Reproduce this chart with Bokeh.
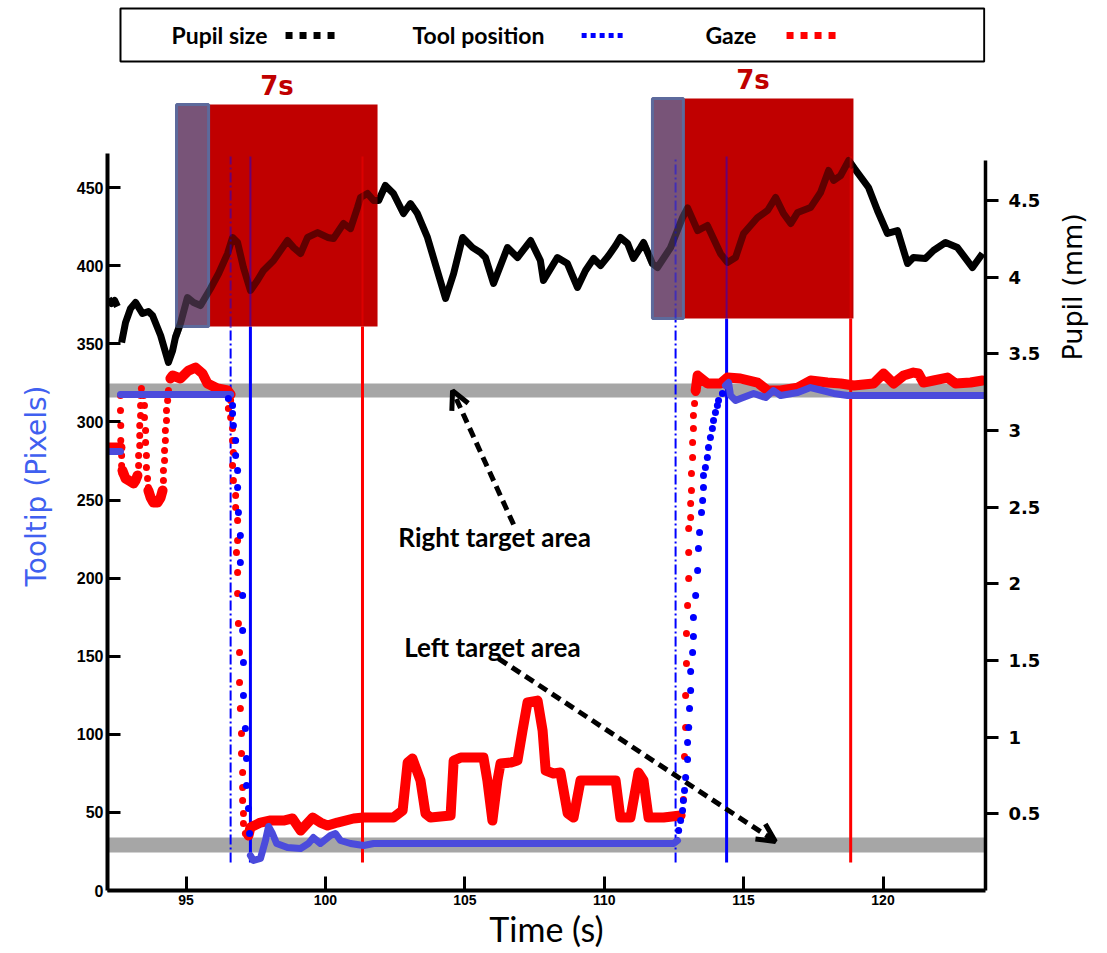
import numpy as np
from bokeh.plotting import figure
from bokeh.models import (Range1d, LinearAxis, FixedTicker, NumeralTickFormatter, CustomJSTickFormatter,
                          Arrow, OpenHead, ColumnDataSource, BoxAnnotation)
from bokeh.core.properties import value
from bokeh.embed import file_html
from bokeh.resources import INLINE

nan = float("nan")

# ---------------- data ----------------
time_ticks = [95, 100, 105, 110, 115, 120]
pixel_ticks = [0, 50, 100, 150, 200, 250, 300, 350, 400, 450]
pupil_ticks = [0.5, 1, 1.5, 2, 2.5, 3, 3.5, 4, 4.5]

# pupil size (mm, right axis)
pupil_t = [92.22, 92.33, 92.44, 92.54, nan, 92.69, 92.83, 93.01, 93.19, 93.44, 93.65, 93.80, 94.09, 94.37,
           94.52, 94.62, 94.80, 95.05, 95.27, 95.52, 95.88, 96.17, 96.49, 96.67, 96.85, 97.06, 97.31,
           97.56, 97.78, 98.14, 98.64, 98.86, 99.11, 99.36, 99.72, 100.08, 100.29, 100.65, 100.90,
           101.15, 101.26, 101.51, 101.73, 101.91, 102.15, 102.44, 102.80, 103.05, 103.30,
           103.66, 104.31, 104.60, 104.92, 105.28, 105.56, 105.74, 106.03, 106.53, 106.89, 107.36, 107.71,
           107.82, 108.32, 108.68, 109.04, 109.33, 109.62, 109.87, 110.16, 110.41, 110.58, 110.84, 111.05,
           111.30, 111.41, 111.73, 111.91, 112.38, 112.81, 112.99, 113.35, 113.70, 114.17, 114.42, 114.71,
           115.00, 115.50, 115.86, 116.15, 116.43, 116.69, 116.94, 117.40, 117.76, 118.05, 118.23, 118.48,
           118.77, 118.95, 119.48, 119.80, 120.16, 120.52, 120.88, 121.09, 121.52, 121.81, 122.24, 122.67,
           123.21, 123.57]
pupil_mm = [3.861, 3.828, 3.848, 3.809, nan, 3.574, 3.704, 3.796, 3.835, 3.763, 3.776, 3.750, 3.620, 3.444,
            3.522, 3.607, 3.698, 3.867, 3.835, 3.815, 3.926, 4.024, 4.154, 4.259, 4.226, 4.063, 3.913,
            3.978, 4.044, 4.109, 4.239, 4.193, 4.154, 4.259, 4.291, 4.259, 4.252, 4.350, 4.317,
            4.454, 4.520, 4.546, 4.500, 4.500, 4.598, 4.546, 4.415, 4.480, 4.415,
            4.259, 3.861, 4.024, 4.259, 4.193, 4.161, 4.128, 3.959, 4.193, 4.128, 4.239, 4.109,
            3.978, 4.128, 4.089, 3.933, 4.044, 4.122, 4.076, 4.141, 4.207, 4.259, 4.220, 4.122,
            4.193, 4.226, 4.089, 4.063, 4.193, 4.389, 4.452, 4.304, 4.337, 4.154, 4.096, 4.128,
            4.285, 4.389, 4.435, 4.520, 4.415, 4.350, 4.422, 4.454, 4.552, 4.696, 4.631, 4.663,
            4.761, 4.715, 4.585, 4.435, 4.285, 4.304, 4.089, 4.128, 4.122, 4.174, 4.226, 4.193,
            4.063, 4.154]

# gaze (pixels, left axis): dense stretches and single samples of fast moves
gaze_seg_t = [
    [92.22, 92.65],
    [92.72, 92.83, 93.01, 93.12, 93.19, 93.26],
    [93.65, 93.73, 93.83, 93.98, 94.09, 94.16],
    [94.44, 94.52, 94.80, 95.09, 95.34, 95.59, 95.77, 96.13, 96.49, 96.60],
    [97.24, 97.31, 97.67, 98.03, 98.50, 98.82, 99.11, 99.54, 99.82, 100.08,
     100.43, 101.01, 101.37, 102.44, 102.77, 102.95, 103.12, 103.41, 103.59, 103.77,
     104.49, 104.60, 104.85, 105.67, 105.81, 105.99, 106.17, 106.28, 106.64, 106.89,
     107.07, 107.25, 107.61, 107.79, 107.90, 108.18, 108.43, 108.69, 108.90, 109.15,
     109.40, 110.12, 110.41, 110.58, 110.94, 111.23, 111.41, 111.59, 112.13, 112.74],
    [113.28, 113.35, 113.70, 114.17, 114.42, 114.89, 115.50, 115.86, 116.33, 116.94,
     117.40, 118.01, 118.48, 118.95, 119.66, 120.02, 120.38, 120.74, 121.09, 121.27,
     121.45, 121.81, 122.31, 122.60, 123.14, 123.57],
]
gaze_seg_v = [
    [283.6, 283.6],
    [268.9, 263.8, 261.8, 260.6, 262.5, 265.7],
    [256.1, 251.6, 248.4, 248.4, 251.6, 256.1],
    [327.8, 329.7, 327.8, 332.9, 334.8, 331.0, 324.6, 321.4, 320.1, 317.5],
    [35.2, 40.3, 43.5, 44.8, 44.8, 46.1, 38.4, 46.7, 43.5, 41.6,
     43.5, 46.1, 46.7, 46.7, 51.2, 81.9, 84.5, 70.4, 49.3, 46.7,
     48.0, 83.2, 85.1, 85.1, 70.4, 44.8, 70.4, 81.3, 81.9, 83.2,
     102.4, 120.4, 121.6, 102.4, 76.8, 74.9, 75.5, 49.3, 46.7, 70.4,
     70.4, 70.4, 70.4, 46.7, 46.7, 75.5, 70.4, 46.7, 46.7, 48.0],
    [320.1, 329.7, 324.6, 324.6, 328.4, 327.8, 325.2, 320.1, 320.1, 322.0,
     326.5, 325.2, 324.6, 323.3, 324.6, 331.0, 324.6, 329.7, 331.6, 331.0,
     325.2, 326.5, 328.4, 324.6, 325.2, 326.5],
]
gaze_dot_t = [92.65, 92.65, 92.66, 92.66, 92.69, 92.69, 92.70,
              93.30, 93.30, 93.34, 93.34, 93.34, 93.37, 93.37, 93.37, 93.40,
              93.48, 93.51, 93.51, 93.55, 93.55, 93.58, 93.58, 93.62, 93.65,
              94.19, 94.19, 94.23, 94.23, 94.26, 94.26, 94.30, 94.30, 94.34, 94.37,
              96.60, 96.52, 96.60, 96.67, 96.67, 96.70, 96.67, 96.70, 96.78, 96.78,
              96.85, 96.85, 96.81, 96.85, 96.85, 96.88, 96.92, 96.92, 96.95, 96.99,
              96.99, 97.03, 97.03, 97.03, 97.06, 97.06, 97.13,
              112.84, 112.88, 112.92, 112.92, 112.95, 112.95, 112.99, 113.03, 113.03, 113.03,
              113.10, 113.10, 113.13, 113.13, 113.17, 113.17, 113.20, 113.20, 113.24, 113.28]
gaze_dot_v = [316.9, 307.3, 297.7, 288.1, 278.5, 272.1, 267.0,
              272.1, 278.5, 284.9, 291.3, 297.7, 304.1, 310.5, 316.9, 321.4,
              316.9, 310.5, 302.8, 294.5, 286.8, 278.5, 270.8, 263.8, 258.0,
              262.5, 268.9, 275.3, 281.7, 288.1, 294.5, 300.9, 307.3, 313.7, 320.1,
              313.7, 308.6, 302.8, 295.8, 288.1, 280.4, 272.1, 262.5, 252.9, 245.2,
              236.9, 224.1, 216.4, 203.6, 190.1, 170.9, 152.4, 133.2, 116.5, 100.5,
              87.7, 75.5, 65.9, 57.6, 49.3, 42.9, 36.5,
              58.3, 85.8, 104.4, 124.8, 145.3, 164.5, 182.5, 199.7, 216.4, 231.8,
              238.8, 247.8, 256.1, 267.0, 277.2, 286.8, 295.8, 304.1, 311.8, 318.8]

# tool tip position (pixels, left axis)
tool_seg_t = [
    [92.22, 92.65],
    [92.65, 96.60],
    [97.31, 97.42, 97.67, 97.85, 97.96, 98.10, 98.25, 98.64, 99.11, 99.39,
     99.57, 99.82, 100.18, 100.36, 100.54, 100.90, 101.37, 101.73, 112.49, 112.63],
    [114.35, 114.46, 114.53, 114.71, 114.89, 115.36, 115.79, 116.07, 116.33, 116.94,
     117.40, 117.83, 118.23, 118.73, 123.60],
]
tool_seg_v = [
    [281.0, 281.0],
    [317.5, 317.5],
    [22.4, 19.2, 20.5, 32.0, 41.0, 36.5, 30.1, 27.5, 26.9, 30.1,
     33.9, 30.1, 35.2, 36.5, 32.0, 30.1, 28.8, 30.1, 30.1, 32.0],
    [323.3, 325.2, 316.9, 313.7, 315.0, 318.2, 315.6, 320.1, 316.9, 318.8,
     322.0, 320.1, 318.2, 316.9, 316.9],
]
tool_dot_t = [96.52, 96.67, 96.67, 96.70, 96.78, 96.78, 96.85, 96.85, 96.88, 96.95,
              96.95, 97.03, 97.03, 97.06, 97.06, 97.13, 97.17, 97.17, 97.24, 97.28,
              112.67, 112.74, 112.81, 112.84, 112.88, 112.92, 112.99, 112.99, 113.03, 113.06,
              113.10, 113.10, 113.17, 113.20, 113.20, 113.28, 113.35, 113.38, 113.42, 113.49,
              113.53, 113.56, 113.56, 113.63, 113.70, 113.74, 113.81, 113.88, 113.92, 113.99,
              114.06, 114.10, 114.24]
tool_dot_v = [315.0, 310.5, 305.4, 297.7, 288.1, 278.5, 268.9, 258.0, 242.0, 227.3,
              210.0, 188.9, 166.5, 146.0, 124.8, 103.7, 84.5, 67.2, 52.5, 36.5,
              38.4, 44.8, 51.2, 57.6, 64.0, 72.3, 83.9, 94.8, 104.4, 116.5,
              128.0, 140.2, 152.4, 162.6, 174.8, 188.9, 204.9, 218.9, 229.2, 242.0,
              249.7, 258.0, 265.7, 270.8, 277.2, 283.6, 290.0, 295.8, 300.9, 306.0,
              310.5, 313.7, 318.2]

# target areas (pixels)
target_lo = [24.3, 315.6]
target_hi = [33.9, 324.6]

# 7 s windows: purple onset strip + red window
win_start = [94.66, 111.73]
win_split = [95.81, 112.84]
win_end = [101.87, 118.94]
win_lo = [361.1, 366.2]
win_hi = [503.2, 507.0]
win_label = ["7s", "7s"]

# event lines (s)
event_dashdot_t = [96.60, 112.56]
event_blue_t = [97.31, 114.39]
event_red_t = [101.33, 118.84]
event_lo, event_hi = 18.0, 470.0

# annotations
note_text = ["Right target area", "Left target area"]
note_t = [106.07, 105.99]
note_v = [226.0, 155.6]
arrow_t0 = [106.75, 106.21]
arrow_v0 = [234.3, 148.5]
arrow_t1 = [104.56, 116.14]
arrow_v1 = [320.0, 31.4]

legend_labels = ["Pupil size", "Tool position", "Gaze"]
legend_colors = ["black", "#0000ff", "#ff0000"]

RED_WIN = "#c00000"
PURPLE = "#785478"
BLUE_PATH = "#4b4bdc"
TICK_FONT = "Liberation Sans"

# ---------------- figure ----------------
p = figure(width=1107, height=953,
           x_range=Range1d(92.184, 123.676), y_range=Range1d(0, 569.8),
           min_border_left=107, min_border_right=122, min_border_top=0, min_border_bottom=63,
           toolbar_location=None, output_backend="svg")
p.extra_y_ranges = {"pupil": Range1d(0, 5.8045)}
p.grid.visible = False
p.outline_line_color = None

xa = p.xaxis[0]
xa.ticker = FixedTicker(ticks=time_ticks)
xa.axis_line_width = 4
xa.major_tick_in = 14
xa.major_tick_out = 0
xa.major_tick_line_width = 3
xa.minor_tick_line_color = None
xa.major_label_text_font = TICK_FONT
xa.major_label_text_font_style = "bold"
xa.major_label_text_font_size = "14px"
xa.major_label_text_color = "black"
xa.major_label_standoff = 4
xa.axis_label = "Time (s)"
xa.axis_label_text_font = "Lato"
xa.axis_label_text_font_style = "normal"
xa.axis_label_text_font_size = "34px"
xa.axis_label_text_color = "black"
xa.axis_label_standoff = 0

ya = p.yaxis[0]
ya.ticker = FixedTicker(ticks=pixel_ticks)
ya.bounds = (0, 472)
ya.axis_line_width = 4
ya.major_tick_in = 13
ya.major_tick_out = 0
ya.major_tick_line_width = 3
ya.minor_tick_line_color = None
ya.major_label_text_font = TICK_FONT
ya.major_label_text_font_style = "bold"
ya.major_label_text_font_size = "16px"
ya.major_label_text_color = "black"
ya.major_label_standoff = 4

# outer left axis that only carries the rotated title, placed at its own tick
ya2 = LinearAxis(ticker=FixedTicker(ticks=[323.3]),
                 formatter=CustomJSTickFormatter(code="return 'Tooltip (Pixels)'"),
                 axis_line_color=None, major_tick_line_color=None, minor_tick_line_color=None,
                 major_tick_in=0, major_tick_out=0, minor_tick_in=0, minor_tick_out=0,
                 major_label_orientation=np.pi / 2, major_label_standoff=37,
                 major_label_text_font="DejaVu Sans", major_label_text_font_style="normal",
                 major_label_text_font_size="28px", major_label_text_line_height=1.0,
                 major_label_text_color="#4060f0")
p.add_layout(ya2, "left")

ra = LinearAxis(y_range_name="pupil", ticker=FixedTicker(ticks=pupil_ticks),
                formatter=NumeralTickFormatter(format="0.[0]"), bounds=(0, 4.76))
ra.axis_line_width = 3.5
ra.major_tick_in = 0
ra.major_tick_out = 13
ra.major_tick_line_width = 3
ra.minor_tick_line_color = None
ra.major_label_text_font = "DejaVu Sans"
ra.major_label_text_font_style = "bold"
ra.major_label_text_font_size = "18px"
ra.major_label_text_color = "black"
ra.major_label_standoff = 10
p.add_layout(ra, "right")

ra2 = LinearAxis(y_range_name="pupil", ticker=FixedTicker(ticks=[3.457]),
                 formatter=CustomJSTickFormatter(code="return 'Pupil (mm)'"),
                 axis_line_color=None, major_tick_line_color=None, minor_tick_line_color=None,
                 major_tick_in=0, major_tick_out=0, minor_tick_in=0, minor_tick_out=0,
                 major_label_orientation=np.pi / 2, major_label_standoff=29,
                 major_label_text_font="DejaVu Sans", major_label_text_font_style="normal",
                 major_label_text_font_size="27px", major_label_text_color="black")
p.add_layout(ra2, "right")

# target areas
for lo, hi in zip(target_lo, target_hi):
    p.add_layout(BoxAnnotation(bottom=lo, top=hi, fill_color="#a6a6a6", fill_alpha=1.0,
                               line_color=None, level="underlay"))

# legend strip at the top
p.quad(left=[92.65], right=[123.63], bottom=[530.7], top=[564.7],
       fill_color=None, line_color="black", line_width=2)
p.text(x=[94.48, 103.12, 113.63], y=[547.4] * 3, text=legend_labels,
       text_font=value("Lato"), text_font_style="bold", text_font_size="23px",
       text_align="left", text_baseline="middle", text_color="black")
for x0, x1, c, w, d in zip([98.57, 109.19, 116.54], [100.43, 110.76, 118.40], legend_colors,
                           [7, 5, 7], ["7 7", "5 4", "7 7"]):
    p.line([x0, x1], [547.4, 547.4], line_color=c, line_width=w, line_dash=d)

# event lines, lower (outside window) parts
p.segment(x0=event_dashdot_t, x1=event_dashdot_t, y0=[event_lo] * 2, y1=win_lo,
          line_color="#0000ff", line_width=2, line_dash="10 3 2 3")
p.segment(x0=event_blue_t, x1=event_blue_t, y0=[event_lo] * 2, y1=win_lo,
          line_color="#0000ff", line_width=3)
p.segment(x0=event_red_t, x1=event_red_t, y0=[event_lo] * 2, y1=win_lo,
          line_color="#ff0000", line_width=3)

# pupil trace
pt = np.array(pupil_t, dtype=float)
pm = np.array(pupil_mm, dtype=float)
p.line(pt, pm, y_range_name="pupil", line_color="black", line_width=7, line_join="round")

# 7 s windows
p.quad(left=win_start, right=win_end, bottom=win_lo, top=win_hi,
       fill_color=RED_WIN, line_color=None)
p.quad(left=win_start, right=win_split, bottom=win_lo, top=win_hi,
       fill_color=PURPLE, line_color="#5d6a9c", line_width=3)

# see-through parts inside the windows
ov_t, ov_m = [], []
for a, b in zip(win_start, win_end):
    idx = np.where((pt >= a) & (pt <= b))[0]
    lo, hi = max(idx[0] - 1, 0), min(idx[-1] + 1, len(pt) - 1)
    ov_t.append(list(pt[lo:hi + 1]))
    ov_m.append(list(pm[lo:hi + 1]))
p.multi_line(ov_t, ov_m, y_range_name="pupil", line_color="black", line_alpha=0.5,
             line_width=7, line_join="round")
p.segment(x0=event_dashdot_t, x1=event_dashdot_t, y0=win_lo, y1=[event_hi] * 2,
          line_color="#0000ff", line_alpha=0.45, line_width=2, line_dash="10 3 2 3")
p.segment(x0=event_blue_t, x1=event_blue_t, y0=win_lo, y1=[event_hi] * 2,
          line_color="#0000ff", line_alpha=0.45, line_width=2)
p.segment(x0=event_red_t, x1=event_red_t, y0=win_lo, y1=[event_hi] * 2,
          line_color="#ff0000", line_alpha=0.45, line_width=2)

win_mid = [(a + b) / 2 for a, b in zip(win_start, win_end)]
p.text(x=win_mid, y=[h + 12 for h in win_hi], text=win_label,
       text_font=value("DejaVu Sans"), text_font_style="bold", text_font_size="26px",
       text_color=RED_WIN, text_align="center", text_baseline="middle")

# gaze and tool traces
p.multi_line(gaze_seg_t, gaze_seg_v, line_color="#ff0000", line_width=10,
             line_join="round", line_cap="round")
p.scatter(gaze_dot_t, gaze_dot_v, marker="circle", size=7, fill_color="#ff0000", line_color=None)
p.multi_line(tool_seg_t, tool_seg_v, line_color=BLUE_PATH, line_width=7,
             line_join="round", line_cap="round")
p.scatter(tool_dot_t, tool_dot_v, marker="circle", size=7, fill_color="#0000ff", line_color=None)

# arrows + notes
arrow_src = ColumnDataSource(dict(x0=arrow_t0, y0=arrow_v0, x1=arrow_t1, y1=arrow_v1))
p.add_layout(Arrow(source=arrow_src, x_start="x0", y_start="y0", x_end="x1", y_end="y1",
                   line_color="black", line_width=5, line_dash="10 6",
                   end=OpenHead(size=18, line_width=5, line_color="black")))
p.text(x=note_t, y=note_v, text=note_text, text_font=value("Lato"), text_font_style="bold",
       text_font_size="26px", text_color="black", text_align="center", text_baseline="middle")

open("out.html", "w").write(file_html(p, INLINE))
